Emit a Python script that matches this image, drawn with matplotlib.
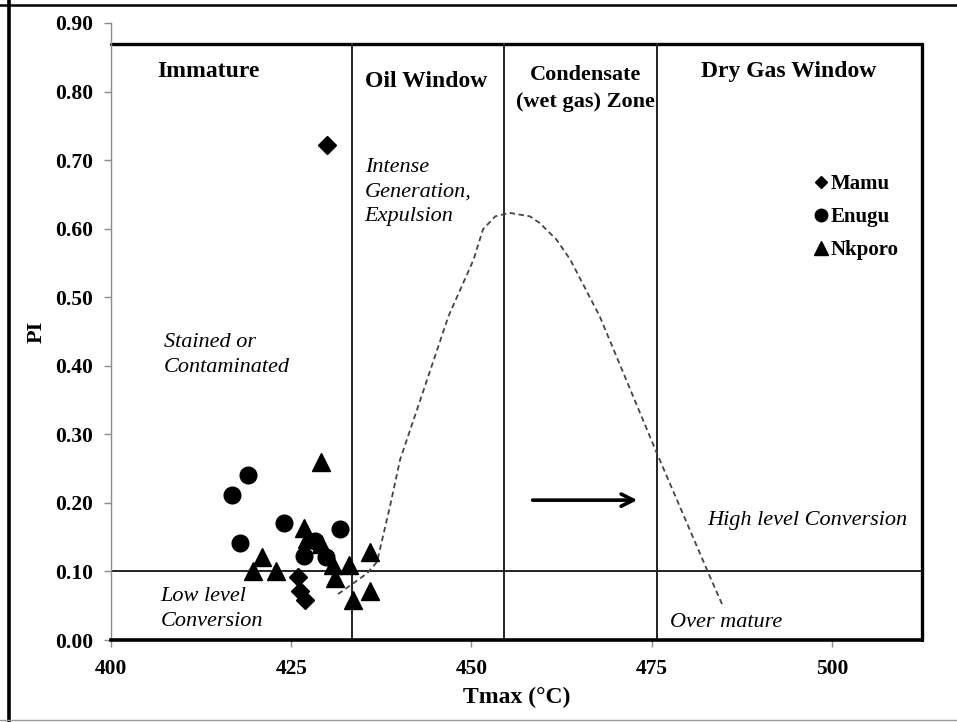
import numpy as np
import matplotlib
matplotlib.use('Agg')
import matplotlib.pyplot as plt
from matplotlib.lines import Line2D

# sample data
mamu_x = [429.9, 426.0, 426.2, 426.9]
mamu_y = [0.722, 0.092, 0.071, 0.058]

enugu_x = [419.0, 416.8, 417.9, 424.0, 431.8, 426.8, 429.8, 428.3]
enugu_y = [0.241, 0.212, 0.141, 0.170, 0.162, 0.122, 0.121, 0.145]

nkporo_x = [429.1, 426.8, 427.2, 429.2, 421.0, 419.7, 422.9, 430.8, 431.1, 433.0, 435.9, 435.9, 433.6]
nkporo_y = [0.259, 0.163, 0.148, 0.140, 0.121, 0.100, 0.100, 0.110, 0.090, 0.109, 0.129, 0.071, 0.058]

# dashed maturation envelope
curve_x = [431.5, 435.5, 436.9, 438.7, 440.1, 442.9, 446.8, 450.3, 451.6, 453.3, 455.3,
           458.1, 459.5, 461.8, 463.7, 467.8, 475.7, 483.1, 484.9]
curve_y = [0.067, 0.097, 0.114, 0.195, 0.263, 0.350, 0.472, 0.555, 0.599, 0.618, 0.623,
           0.618, 0.608, 0.584, 0.555, 0.472, 0.273, 0.092, 0.049]

zone_bounds = [433.5, 454.55, 475.7]
pi_limit = 0.1
box_top = 0.87
arrow_x = [458.1, 473.4]
arrow_y = 0.204

xticks = [400, 425, 450, 475, 500]
yticks = [0.0, 0.1, 0.2, 0.3, 0.4, 0.5, 0.6, 0.7, 0.8, 0.9]
xmin, xmax = 400, 512.5

serif = 'Liberation Serif'

fig = plt.figure(figsize=(9.57, 7.22), dpi=100)
ax = fig.add_axes([111/957, 1 - 640/722, 811/957, 617/722])
ax.set_xlim(xmin, xmax)
ax.set_ylim(0, 0.9)

# spines
for s in ['top', 'right']:
    ax.spines[s].set_visible(False)
ax.spines['left'].set_color('#8c8c8c')
ax.spines['left'].set_linewidth(1.0)
ax.spines['bottom'].set_color('black')
ax.spines['bottom'].set_linewidth(2.6)

ax.set_xticks(xticks)
ax.set_yticks(yticks)
ax.set_xticklabels([str(t) for t in xticks])
ax.set_yticklabels(['%.2f' % t for t in yticks])
ax.tick_params(axis='both', direction='out', length=5, width=1, color='#8c8c8c',
               labelsize=15.5)
ax.tick_params(axis='y', pad=8)
ax.tick_params(axis='x', pad=9)
for lab in ax.get_xticklabels() + ax.get_yticklabels():
    lab.set_fontfamily(serif)
    lab.set_fontweight('bold')

ax.set_xlabel('Tmax (°C)', fontsize=17, fontweight='bold', family=serif, labelpad=5)
ax.set_ylabel('PI', fontsize=16, fontweight='bold', family=serif, labelpad=6)

# zone box
ax.plot([xmin, xmax], [box_top, box_top], color='black', lw=2.4, solid_capstyle='round', clip_on=False)
ax.plot([xmax, xmax], [0, box_top], color='black', lw=2.4, solid_capstyle='round', clip_on=False)
for xb in zone_bounds:
    ax.plot([xb, xb], [0, box_top], color='#222222', lw=1.4)
ax.plot([xmin, xmax], [pi_limit, pi_limit], color='#222222', lw=1.4)

ax.plot(curve_x, curve_y, color='#444444', lw=1.3, ls=(0, (3, 2)))

ax.annotate('', xy=(arrow_x[1], arrow_y), xytext=(arrow_x[0], arrow_y),
            arrowprops=dict(arrowstyle='->', lw=2.6, color='black', mutation_scale=22))

ax.plot(mamu_x, mamu_y, 'D', color='black', ms=9, ls='none', label='Mamu')
ax.plot(enugu_x, enugu_y, 'o', color='black', ms=12, ls='none', label='Enugu')
ax.plot(nkporo_x, nkporo_y, '^', color='black', ms=13, ls='none', label='Nkporo')

leg_handles = [Line2D([], [], marker='D', color='black', ls='none', ms=6.5),
               Line2D([], [], marker='o', color='black', ls='none', ms=9),
               Line2D([], [], marker='^', color='black', ls='none', ms=9.5)]
ax.legend(leg_handles, ['Mamu', 'Enugu', 'Nkporo'], loc='upper left',
          bbox_to_anchor=(0.866, 0.755), frameon=False, borderpad=0, borderaxespad=0,
          handlelength=0.7, handletextpad=0.15, labelspacing=0.62,
          prop={'family': serif, 'weight': 'bold', 'size': 15})

# zone titles
bold = dict(family=serif, fontweight='bold', fontsize=17, va='center')
ax.text(406.4, 0.829, 'Immature', ha='left', **bold)
ax.text(435.2, 0.815, 'Oil Window', ha='left', **bold)
ax.text(465.8, 0.804, 'Condensate\n(wet gas) Zone', ha='center', linespacing=1.45,
        family=serif, fontweight='bold', fontsize=16, va='center')
ax.text(494.0, 0.829, 'Dry Gas Window', ha='center', **bold)

ital = dict(family=serif, style='italic', fontsize=16, va='center', ha='left', linespacing=1.4)
ax.text(435.2, 0.654, 'Intense\nGeneration,\nExpulsion', **ital)
ax.text(407.3, 0.416, 'Stained or\nContaminated', **ital)
ax.text(406.9, 0.045, 'Low level\nConversion', **ital)
ax.text(482.7, 0.175, 'High level Conversion', **ital)
ax.text(477.5, 0.026, 'Over mature', **ital)

# outer frame of the figure
fig.add_artist(Line2D([9/957, 9/957], [0, 1], color='black', lw=2.6, transform=fig.transFigure))
fig.add_artist(Line2D([0, 1], [1 - 5/722, 1 - 5/722], color='black', lw=1.8, transform=fig.transFigure))
fig.add_artist(Line2D([0, 1], [2/722, 2/722], color='#999999', lw=1.0, transform=fig.transFigure))

fig.savefig('out.png', dpi=100)
